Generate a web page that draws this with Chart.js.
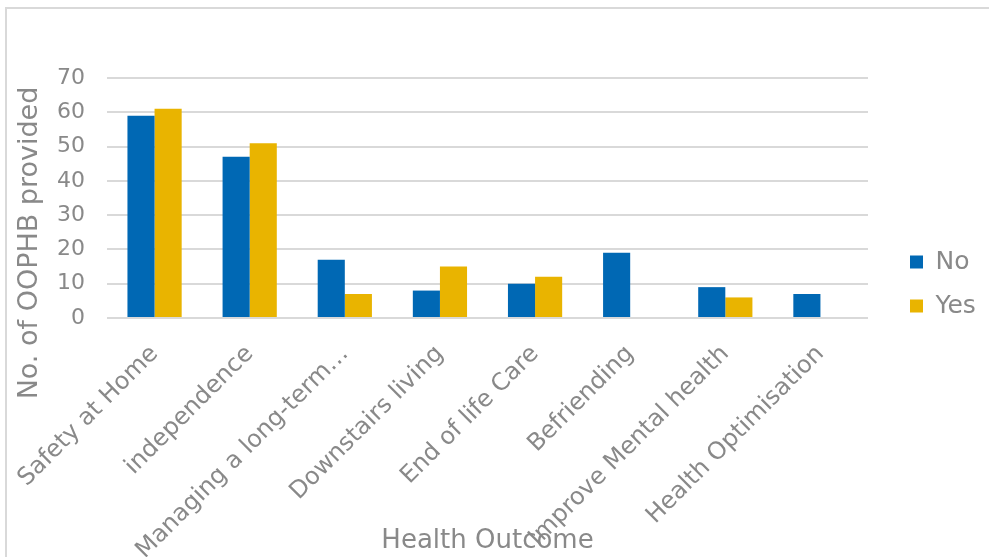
<!DOCTYPE html>
<html>
<head>
<meta charset="utf-8">
<script src="https://cdn.jsdelivr.net/npm/chart.js@4"></script>
<style>
  html, body { margin: 0; padding: 0; background: #fff; }
  #wrap { width: 989px; height: 557px; position: relative; }
</style>
</head>
<body>
<div id="wrap"><canvas id="outcome-chart"></canvas></div>
<script>
// categories and counts
const outcomes = ["Safety at Home", "independence", "Managing a long-term\u2026", "Downstairs living",
                  "End of life Care", "Befriending", "Improve Mental health", "Health Optimisation"];
const noCounts  = [59, 47, 17, 8, 10, 19, 9, 7];
const yesCounts = [61, 51, 7, 15, 12, 0, 6, 0];
const yTicks = [0, 10, 20, 30, 40, 50, 60, 70];

const greyText = "#898989";
const fontFam = "'DejaVu Sans', Verdana, sans-serif";

// frame round the whole picture + rotated y title (centred lower than the plot, like the original)
const extras = {
    id: "extras",
    beforeLayout(chart) {
        const lg = chart.legend;
        if (lg && !lg._fixed) {
            const fit = lg.fit;
            lg.fit = function () { fit.call(this); this.width = 121; };
            lg._fixed = true;
        }
    },
    afterLayout(chart) {
        const lg = chart.legend;
        lg.left = 891; lg.right = 989;
        lg.top = 11; lg.bottom = 557;
        lg.width = lg.right - lg.left; lg.height = lg.bottom - lg.top;
    },
    beforeDraw(chart) {
        const ctx = chart.ctx;
        ctx.save();
        ctx.fillStyle = "#fff";
        ctx.fillRect(0, 0, chart.width, chart.height);
        ctx.strokeStyle = "#d9d9d9";
        ctx.lineWidth = 2;
        ctx.strokeRect(6, 8, 1000, 600);
        ctx.restore();
    },
    afterDraw(chart) {
        const ctx = chart.ctx;
        ctx.save();
        ctx.translate(37, 243);
        ctx.rotate(-Math.PI / 2);
        ctx.font = "27px " + fontFam;
        ctx.fillStyle = greyText;
        ctx.textAlign = "center";
        ctx.textBaseline = "alphabetic";
        ctx.fillText("No. of OOPHB provided", 0, 0);
        ctx.restore();
    }
};

new Chart("outcome-chart", {
    type: "bar",
    data: {
        labels: outcomes,
        datasets: [
            { label: "No",  data: noCounts,  backgroundColor: "#0068B4" },
            { label: "Yes", data: yesCounts, backgroundColor: "#E9B400" }
        ]
    },
    options: {
        responsive: true,
        maintainAspectRatio: false,
        animation: false,
        layout: { padding: { left: 0, right: 0, top: 78, bottom: 0 } },
        datasets: { bar: { categoryPercentage: 0.57, barPercentage: 1.0 } },
        plugins: {
            tooltip: { enabled: false },
            legend: {
                position: "right",
                labels: {
                    color: greyText,
                    font: { family: fontFam, size: 25 },
                    boxWidth: 13,
                    boxHeight: 13,
                    padding: 19
                }
            }
        },
        scales: {
            x: {
                grid: { display: false },
                border: { display: false },
                afterFit(scale) { scale.height = 239; },
                ticks: {
                    autoSkip: false,
                    minRotation: 45,
                    maxRotation: 45,
                    padding: 14,
                    color: greyText,
                    font: { family: fontFam, size: 24 }
                },
                title: {
                    display: true,
                    text: "Health Outcome",
                    color: greyText,
                    font: { family: fontFam, size: 26 },
                    padding: { top: 0, bottom: 0 }
                }
            },
            y: {
                min: 0,
                max: 70,
                afterFit(scale) { scale.width = 107; },
                afterBuildTicks(scale) { scale.ticks = yTicks.map(v => ({ value: v })); },
                border: { display: false },
                grid: { color: "#d9d9d9", lineWidth: 2, drawTicks: false },
                ticks: {
                    padding: 22,
                    color: greyText,
                    font: { family: fontFam, size: 22 }
                }
            }
        }
    },
    plugins: [extras]
});
</script>
</body>
</html>
